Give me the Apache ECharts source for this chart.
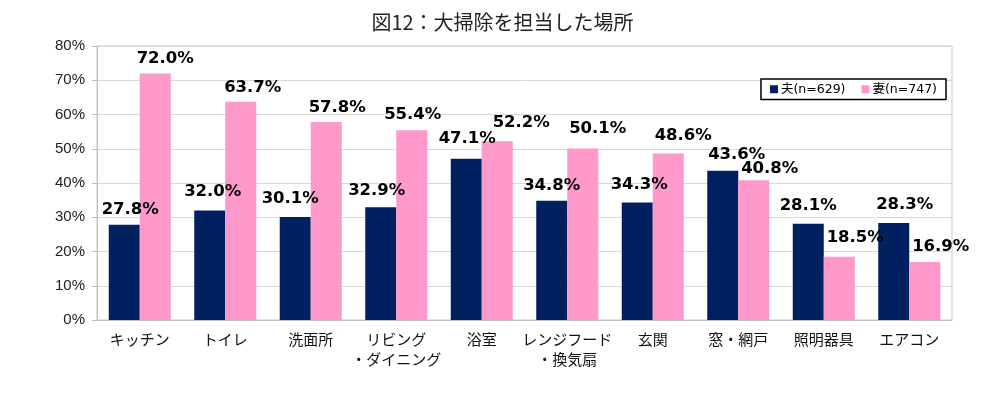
<!DOCTYPE html>
<html><head><meta charset="utf-8">
<script src="https://cdn.jsdelivr.net/npm/echarts@6/dist/echarts.min.js"></script>
<style>html,body{margin:0;padding:0;background:#fff}#c{width:1005px;height:395px}</style>
</head><body><div id="c"></div>
<script>
const categories = ['キッチン','トイレ','洗面所','リビング\n・ダイニング','浴室','レンジフード\n・換気扇','玄関','窓・網戸','照明器具','エアコン'];
const husband = [27.8,32.0,30.1,32.9,47.1,34.8,34.3,43.6,28.1,28.3];
const wife = [72.0,63.7,57.8,55.4,52.2,50.1,48.6,40.8,18.5,16.9];
const seriesNames = ['夫(n=629)','妻(n=747)'];
const yTicks = [0,10,20,30,40,50,60,70,80];
// label nudges (style only)
const husbandLabelDx = [6,3,-5,-4,1,0,2,14,0,11];
const wifeLabelDx = [10,12,11,1,24,15,15,16,16,16];
const husbandLabelDy = [0,-3,-3,-1,-4,0,-2,0,-3,-3];
const wifeLabelDy = [1,1,1,0,-3,-4,-2,4,-3,0];

function mk(vals, dx, dy){
  return vals.map((v,i)=>({value:v,label:{offset:[dx[i],dy[i]]}}));
}
const labelStyle = {show:true,position:'top',distance:7,fontFamily:'DejaVu Sans, sans-serif',fontWeight:'bold',fontSize:16.5,color:'#000',formatter:p=>p.value.toFixed(1)+'%'};
const chart = echarts.init(document.getElementById('c'),null,{renderer:'canvas'});
chart.setOption({
  animation:false,
  backgroundColor:'#fff',
  title:{text:'図12：大掃除を担当した場所',left:'center',top:7,textStyle:{fontFamily:'Noto Sans CJK JP',fontWeight:'normal',fontSize:20,color:'#222'}},
  legend:{data:seriesNames,right:59,top:79,icon:'rect',itemWidth:8,itemHeight:8,itemGap:16,borderColor:'#000',borderWidth:1.5,padding:[4,9,4,9],backgroundColor:'#fff',textStyle:{fontFamily:'DejaVu Sans, Noto Sans CJK JP',fontSize:12.5,color:'#000',padding:[0,0,0,-2]}},
  grid:{left:97,right:53,top:46,bottom:75,show:true,borderColor:'#c8c8c8',borderWidth:1},
  xAxis:{type:'category',data:categories,axisLine:{lineStyle:{color:'#bfbfbf'}},axisTick:{show:false},
    axisLabel:{fontFamily:'Noto Sans CJK JP',fontSize:15,color:'#111',margin:9,lineHeight:20,interval:0}},
  yAxis:{type:'value',min:yTicks[0],max:yTicks[yTicks.length-1],interval:10,
    axisLine:{show:true,lineStyle:{color:'#bfbfbf'}},axisTick:{show:true,length:5,lineStyle:{color:'#bfbfbf'}},
    splitLine:{lineStyle:{color:'#d9d9d9'}},
    axisLabel:{formatter:'{value}%',fontFamily:'Liberation Sans, Arial, sans-serif',fontSize:15,color:'#222',margin:12}},
  series:[
    {name:seriesNames[0],type:'bar',data:mk(husband,husbandLabelDx,husbandLabelDy),barWidth:31,barGap:'0%',itemStyle:{color:'#002060'},label:labelStyle},
    {name:seriesNames[1],type:'bar',data:mk(wife,wifeLabelDx,wifeLabelDy),barWidth:31,barGap:'0%',itemStyle:{color:'#FF99CC'},label:labelStyle}
  ]
});
</script></body></html>
